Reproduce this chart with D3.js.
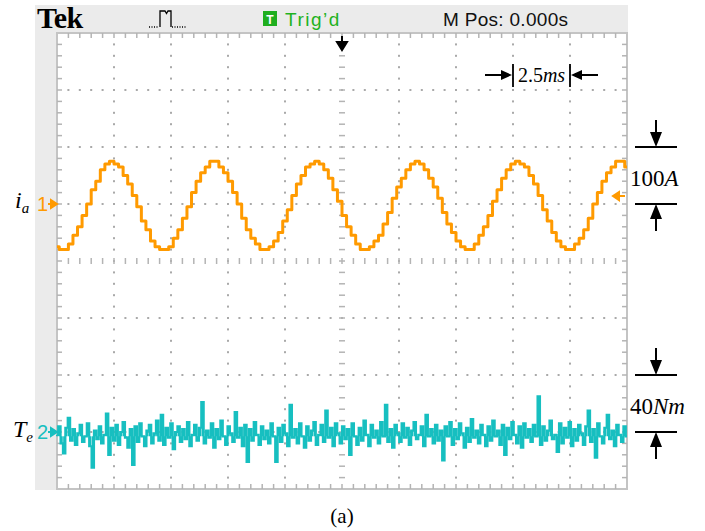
<!DOCTYPE html>
<html>
<head>
<meta charset="utf-8">
<script src="https://cdn.jsdelivr.net/npm/d3@7"></script>
<style>body{margin:0;background:#fff}</style>
</head>
<body>
<script>
"use strict";
var width = 705;
var height = 531;

// phase current i_a, A, one sample every 0.2 ms from -12.5 ms
var iaStart = -12.5;
var iaStep = 0.2;
var iaValues = [
    -75, -80, -80, -70, -55, -40, -20, 0, 25, 40, 60, 70, 75, 70, 65, 50, 35, 15, -5, -30,
    -45, -65, -75, -80, -80, -75, -60, -45, -25, -5, 20, 40, 55, 65, 75, 75, 65, 55, 40, 20,
    0, -25, -45, -60, -70, -80, -80, -75, -65, -50, -30, -10, 15, 35, 50, 65, 70, 75, 70, 60,
    45, 25, 5, -20, -40, -55, -70, -80, -80, -75, -65, -55, -35, -15, 10, 30, 45, 60, 70, 75,
    70, 60, 45, 30, 10, -15, -35, -50, -65, -75, -80, -80, -70, -55, -40, -20, 5, 25, 45, 60,
    70, 75, 70, 65, 50, 35, 15, -10, -30, -50, -65, -75, -80, -80, -70, -60, -45, -25, 0, 20,
    40, 55, 65, 75, 75, 65
];

// torque T_e, Nm, evenly spread over the 25 ms window
var teMean = -3;
var teValues = [
    -2, 4, -8, -15, 3, 10, -6, 2, -9, -1, 5, -7, -3, 6, -10, -25, 1, -5, 4, -8,
    -2, 13, -16, 3, -6, 5, -9, 0, 7, -4, -11, 2, -23, 4, -7, 6, -3, -10, 1, 5,
    -8, -1, 8, -6, 12, -9, 3, -4, 6, -12, 0, 4, -7, 2, -5, 7, -10, -2, 5, -6,
    3, 21, -8, 1, -4, 6, -11, 2, -5, 8, -3, -9, 4, -1, -7, 14, -4, 3, -10, 5,
    -21, 2, -6, 7, -2, -9, 4, -5, 1, -8, 6, -3, -21, 3, -7, 5, -1, -10, 19, -4,
    2, -8, 6, -3, -11, 4, -6, 1, 7, -9, -2, 5, -7, 15, -4, 3, -10, 6, -1, -8,
    4, -5, 2, -16, 6, -3, -9, 3, -6, 8, -2, -10, 5, -4, 1, -8, 7, -3, 19, -7,
    2, -11, 5, -1, -7, 6, -4, 3, -9, 1, 7, -5, -2, 4, -10, 12, -3, 2, -8, 5,
    -6, 1, -20, 4, -3, 7, -9, 2, -5, 6, -1, -11, 3, -7, 9, -4, 1, -8, 5, -2,
    -10, 4, -6, 8, -3, 1, -9, 5, -16, 3, -5, 7, -2, -8, 4, -11, 6, -4, 2, -7,
    5, -3, 25, -9, 4, -6, 1, 8, -5, -2, -14, 6, -8, 3, -4, 7, -10, 2, -6, 5,
    -1, -9, 4, 15, -7, 2, -18, 6, -3, -8, 3, 12, -5, 1, -10, 5, -2, -7, 4, -3
];

var timeDomain = [-12.5, 12.5];   // ms, 2.5 ms/div
var divDomain = [-4, 4];          // vertical divisions
var iaDomain = [-500, 300];       // A, 100 A/div, ground one div above centre
var teDomain = [-40, 280];        // Nm, 40 Nm/div, ground three divs below centre
var scaleLabels = ['100', 'A', '40', 'Nm', '2.5', 'ms'];

var orange = '#ff9a00';
var cyan = '#17bfc0';
var grey = '#a9a9a9';

var pLeft = 57, pRight = 627, pTop = 33, pBottom = 489;

var x = d3.scaleLinear().domain(timeDomain).range([pLeft, pRight]);
var gy = d3.scaleLinear().domain(divDomain).range([pBottom, pTop]);
var y1 = d3.scaleLinear().domain(iaDomain).range([pBottom, pTop]);
var y2 = d3.scaleLinear().domain(teDomain).range([pBottom, pTop]);

var svg = d3.select('body')
    .append('svg')
    .attr('width', width)
    .attr('height', height)
    .style('display', 'block');

// scope frame
svg.append('rect')
    .attr('x', 35).attr('y', 5)
    .attr('width', pRight - 35 + 1).attr('height', pBottom - 5 + 1)
    .attr('fill', '#ebebeb');
svg.append('rect')
    .attr('x', pLeft).attr('y', pTop)
    .attr('width', pRight - pLeft).attr('height', pBottom - pTop)
    .attr('fill', 'white')
    .attr('stroke', '#c4c4c4')
    .attr('stroke-width', 2);

// grid: dotted lines, ticked centre lines and edges
var majorX = d3.range(-10, 12.5, 2.5);
var majorY = d3.range(-3, 4, 1);
var minorX = d3.range(-12.5, 12.51, 0.5);
var minorY = d3.range(-4, 4.01, 0.2);
var grid = svg.append('g');

majorX.filter(function (t) { return t !== 0; }).forEach(function (t) {
    grid.selectAll(null)
        .data(minorY.slice(1, -1))
        .enter()
        .append('rect')
        .attr('x', x(t) - 1).attr('y', function (d) { return gy(d) - 1; })
        .attr('width', 2).attr('height', 2)
        .attr('fill', grey);
});
majorY.filter(function (d) { return d !== 0; }).forEach(function (v) {
    grid.selectAll(null)
        .data(minorX.slice(1, -1))
        .enter()
        .append('rect')
        .attr('x', function (t) { return x(t) - 1; }).attr('y', gy(v) - 1)
        .attr('width', 2).attr('height', 2)
        .attr('fill', grey);
});

var tickLines = [];
minorX.slice(1, -1).forEach(function (t) {
    tickLines.push([x(t), gy(0) - 3, x(t), gy(0) + 3]);
    tickLines.push([x(t), pTop, x(t), pTop + 5]);
    tickLines.push([x(t), pBottom - 5, x(t), pBottom]);
});
minorY.slice(1, -1).forEach(function (d) {
    tickLines.push([x(0) - 3, gy(d), x(0) + 3, gy(d)]);
    tickLines.push([pLeft, gy(d), pLeft + 5, gy(d)]);
    tickLines.push([pRight - 5, gy(d), pRight, gy(d)]);
});
grid.selectAll('line')
    .data(tickLines)
    .enter()
    .append('line')
    .attr('x1', function (e) { return e[0]; })
    .attr('y1', function (e) { return e[1]; })
    .attr('x2', function (e) { return e[2]; })
    .attr('y2', function (e) { return e[3]; })
    .attr('stroke', '#b4b4b4')
    .attr('stroke-width', 1.5);

// traces
var iaLine = d3.line()
    .x(function (v, i) { return x(iaStart + i * iaStep); })
    .y(function (v) { return y1(v); })
    .curve(d3.curveStep);
svg.append('path')
    .datum(iaValues)
    .attr('d', iaLine)
    .attr('fill', 'none')
    .attr('stroke', orange)
    .attr('stroke-width', 3)
    .attr('stroke-linejoin', 'round');

var teX = d3.scaleLinear().domain([0, teValues.length - 1]).range(timeDomain);
// peak-detect look: every sample also drawn as a bar back to the mean level
svg.append('g')
    .selectAll('line')
    .data(teValues)
    .enter()
    .append('line')
    .attr('x1', function (v, i) { return x(teX(i)); })
    .attr('x2', function (v, i) { return x(teX(i)); })
    .attr('y1', y2(teMean))
    .attr('y2', function (v) { return y2(v); })
    .attr('stroke', cyan)
    .attr('stroke-width', 2);
var teLine = d3.line()
    .x(function (v, i) { return x(teX(i)); })
    .y(function (v) { return y2(v); })
    .curve(d3.curveStep);
svg.append('path')
    .datum(teValues)
    .attr('d', teLine)
    .attr('fill', 'none')
    .attr('stroke', cyan)
    .attr('stroke-width', 2.2);

// header
svg.append('text')
    .attr('x', 37).attr('y', 28)
    .attr('font-family', 'Liberation Serif, serif')
    .attr('font-weight', 'bold')
    .attr('font-size', 30)
    .attr('letter-spacing', -0.5)
    .text('Tek');
svg.append('path')
    .attr('d', 'M160,27V11H165L166.5,13.5L168,11H171V27')
    .attr('fill', 'none')
    .attr('stroke', 'black')
    .attr('stroke-width', 1.3);
svg.append('path')
    .attr('d', 'M149,27H159M172,27H187')
    .attr('stroke', 'black')
    .attr('stroke-width', 1.3)
    .attr('stroke-dasharray', '1,1.5');
svg.append('rect')
    .attr('x', 263).attr('y', 11)
    .attr('width', 14).attr('height', 15)
    .attr('fill', '#1fae1f');
svg.append('text')
    .attr('x', 270).attr('y', 24)
    .attr('text-anchor', 'middle')
    .attr('font-family', 'Liberation Sans, sans-serif')
    .attr('font-weight', 'bold')
    .attr('font-size', 12)
    .attr('fill', 'white')
    .text('T');
svg.append('text')
    .attr('x', 285).attr('y', 26)
    .attr('font-family', 'Liberation Sans, sans-serif')
    .attr('font-size', 19)
    .attr('letter-spacing', 1.5)
    .attr('fill', '#1fb21f')
    .text('Trig\u2019d');
svg.append('text')
    .attr('x', 443).attr('y', 26)
    .attr('font-family', 'Liberation Sans, sans-serif')
    .attr('font-size', 19)
    .attr('letter-spacing', 0.3)
    .attr('fill', '#111')
    .text('M Pos: 0.000s');

// trigger position marker
svg.append('path')
    .attr('d', 'M' + x(0) + ',36V44M' + (x(0) - 5) + ',42H' + (x(0) + 5) + 'L' + x(0) + ',50Z')
    .attr('stroke', 'black')
    .attr('stroke-width', 2)
    .attr('fill', 'black');

// channel ground markers
function chanMarker(label, yPos, color) {
    svg.append('text')
        .attr('x', 37).attr('y', yPos + 7)
        .attr('font-family', 'Liberation Sans, sans-serif')
        .attr('font-size', 20)
        .attr('fill', color)
        .text(label);
    svg.append('path')
        .attr('d', 'M48,' + yPos + 'H53M51,' + (yPos - 4) + 'L57,' + yPos + 'L51,' + (yPos + 4) + 'Z')
        .attr('stroke', color)
        .attr('stroke-width', 2)
        .attr('fill', color);
}
chanMarker('1', y1(0), orange);
chanMarker('2', y2(0), cyan);

// trigger level marker on the right
var trigY = y1(14);
svg.append('path')
    .attr('d', 'M619,' + trigY + 'H625M619,' + (trigY - 4) + 'L613,' + trigY + 'L619,' + (trigY + 4) + 'Z')
    .attr('stroke', orange)
    .attr('stroke-width', 2)
    .attr('fill', orange);

// trace names
function traceName(main, sub, xPos, yPos) {
    var t = svg.append('text')
        .attr('x', xPos).attr('y', yPos)
        .attr('font-family', 'Liberation Serif, serif')
        .attr('font-style', 'italic')
        .attr('font-size', 24);
    t.append('tspan').text(main);
    t.append('tspan').attr('font-size', 15).attr('dy', 5).text(sub);
}
traceName('i', 'a', 15, y1(0) + 4);
traceName('T', 'e', 13, y2(0) + 5);

// volts/div brackets on the right
function divBracket(yTop, yBot, num, unit) {
    var cx = 656;
    svg.append('path')
        .attr('d', 'M635,' + yTop + 'H677M635,' + yBot + 'H677')
        .attr('stroke', 'black')
        .attr('stroke-width', 2);
    svg.append('path')
        .attr('d', 'M' + cx + ',' + (yTop - 27) + 'V' + (yTop - 8) +
            'M' + cx + ',' + (yBot + 8) + 'V' + (yBot + 27))
        .attr('stroke', 'black')
        .attr('stroke-width', 2);
    svg.append('path')
        .attr('d', 'M' + (cx - 6) + ',' + (yTop - 15) + 'H' + (cx + 6) + 'L' + cx + ',' + yTop + 'Z' +
            'M' + (cx - 6) + ',' + (yBot + 15) + 'H' + (cx + 6) + 'L' + cx + ',' + yBot + 'Z')
        .attr('fill', 'black');
    var t = svg.append('text')
        .attr('x', 630).attr('y', (yTop + yBot) / 2 + 10)
        .attr('font-family', 'Liberation Serif, serif')
        .attr('font-size', 23);
    t.append('tspan').text(num);
    t.append('tspan').attr('font-style', 'italic').text(unit);
}
divBracket(y1(100), y1(0), scaleLabels[0], scaleLabels[1]);
divBracket(y2(40), y2(0), scaleLabels[2], scaleLabels[3]);

// time/div bracket
var bx1 = x(7.5), bx2 = x(10), by = 75;
svg.append('path')
    .attr('d', 'M' + bx1 + ',' + (by - 11) + 'V' + (by + 12) + 'M' + bx2 + ',' + (by - 11) + 'V' + (by + 12) +
        'M' + (bx1 - 28) + ',' + by + 'H' + (bx1 - 8) + 'M' + (bx2 + 8) + ',' + by + 'H' + (bx2 + 28))
    .attr('stroke', 'black')
    .attr('stroke-width', 1.8);
svg.append('path')
    .attr('d', 'M' + (bx1 - 12) + ',' + (by - 5) + 'L' + (bx1 - 1) + ',' + by + 'L' + (bx1 - 12) + ',' + (by + 5) + 'Z' +
        'M' + (bx2 + 12) + ',' + (by - 5) + 'L' + (bx2 + 1) + ',' + by + 'L' + (bx2 + 12) + ',' + (by + 5) + 'Z')
    .attr('fill', 'black');
var tt = svg.append('text')
    .attr('x', (bx1 + bx2) / 2).attr('y', by + 7)
    .attr('text-anchor', 'middle')
    .attr('font-family', 'Liberation Serif, serif')
    .attr('font-size', 20);
tt.append('tspan').text(scaleLabels[4]);
tt.append('tspan').attr('font-style', 'italic').text(scaleLabels[5]);

// caption
svg.append('text')
    .attr('x', x(0)).attr('y', 523)
    .attr('text-anchor', 'middle')
    .attr('font-family', 'Liberation Serif, serif')
    .attr('font-size', 21)
    .text('(a)');
</script>
</body>
</html>
